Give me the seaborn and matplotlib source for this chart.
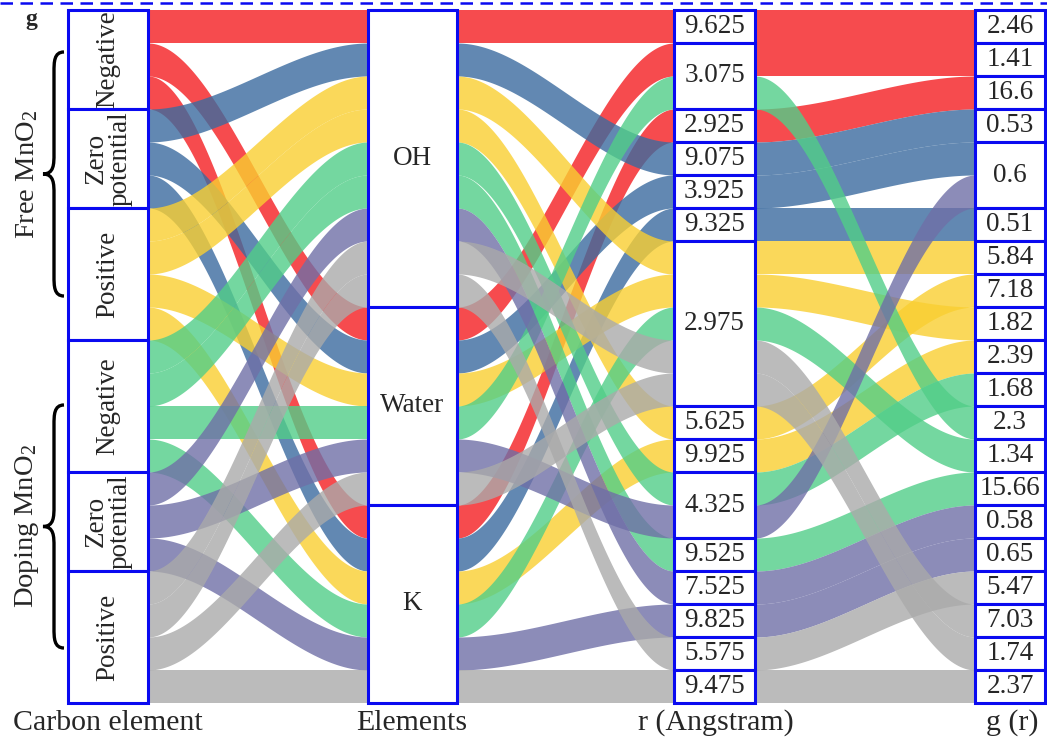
import numpy as np
import matplotlib
matplotlib.use("Agg")
import matplotlib.pyplot as plt
from matplotlib.patches import Rectangle, PathPatch
from matplotlib.path import Path
import seaborn as sns

# ---- data -----------------------------------------------------------------
carbon_levels = ["Free Negative", "Free Zero", "Free Positive",
                 "Doping Negative", "Doping Zero", "Doping Positive"]
carbon_labels = ["Negative", "Zero\npotential", "Positive",
                 "Negative", "Zero\npotential", "Positive"]
element_levels = ["OH", "Water", "K"]
r_levels = ["9.625", "3.075", "2.925", "9.075", "3.925", "9.325", "2.975",
            "5.625", "9.925", "4.325", "9.525", "7.525", "9.825", "5.575", "9.475"]
g_levels = ["2.46", "1.41", "16.6", "0.53", "0.6", "0.51", "5.84", "7.18",
            "1.82", "2.39", "1.68", "2.3", "1.34", "15.66", "0.58", "0.65",
            "5.47", "7.03", "1.74", "2.37"]

# one entry per trajectory (carbon site -> neighbour -> r -> g(r))
flow_carbon = ["Free Negative"] * 3 + ["Free Zero"] * 3 + ["Free Positive"] * 4 + \
              ["Doping Negative"] * 4 + ["Doping Zero"] * 3 + ["Doping Positive"] * 4
flow_element = ["OH", "Water", "K",
                "OH", "Water", "K",
                "OH", "OH", "Water", "K",
                "OH", "OH", "Water", "K",
                "OH", "Water", "K",
                "OH", "OH", "Water", "K"]
flow_r = ["9.625", "3.075", "2.925",
          "9.075", "3.925", "9.325",
          "2.975", "5.625", "2.975", "9.925",
          "4.325", "9.525", "3.075", "2.975",
          "7.525", "4.325", "9.825",
          "2.975", "5.575", "2.975", "9.475"]
flow_g = ["2.46", "1.41", "16.6",
          "0.53", "0.6", "0.51",
          "5.84", "7.18", "1.82", "2.39",
          "1.68", "15.66", "2.3", "1.34",
          "0.58", "0.6", "0.65",
          "7.03", "5.47", "1.74", "2.37"]
flow_weight = [1] * len(flow_carbon)

axis_titles = ["Carbon element", "Elements", "r (Angstram)", "g (r)"]

# ---- style ----------------------------------------------------------------
sns.set_theme(style="white")
plt.rcParams["font.family"] = ["Liberation Serif", "DejaVu Serif"]
plt.rcParams["mathtext.fontset"] = "custom"
plt.rcParams["mathtext.rm"] = "Liberation Serif"
plt.rcParams["mathtext.it"] = "Liberation Serif:italic"

palette = sns.color_palette(["#F41E22", "#3B6B9F", "#F9CF31",
                             "#51CE88", "#6F6FA7", "#AAAAAA"])
ALPHA = 0.8
BOX_BLUE = "#0A0AF0"

# ---- stacking ---------------------------------------------------------------
n = len(flow_carbon)
ci = [carbon_levels.index(v) for v in flow_carbon]
ei = [element_levels.index(v) for v in flow_element]
ri = [r_levels.index(v) for v in flow_r]
gi = [g_levels.index(v) for v in flow_g]


def stack(keys):
    order = sorted(range(n), key=lambda k: keys[k])
    start = [0.0] * n
    acc = 0.0
    for k in order:
        start[k] = acc
        acc += flow_weight[k]
    return start


g_pos = stack([(gi[k], ci[k]) for k in range(n)])
r_pos = stack([(ri[k], ci[k], g_pos[k]) for k in range(n)])
e_pos = stack([(ei[k], ci[k], r_pos[k]) for k in range(n)])
c_pos = stack([(ci[k], e_pos[k]) for k in range(n)])
total = float(sum(flow_weight))

# ---- figure geometry --------------------------------------------------------
W, H = 1047, 742
fig = plt.figure(figsize=(W / 100, H / 100), dpi=100)
ax = fig.add_axes([0, 0, 1, 1])
ax.set_xlim(0, W)
ax.set_ylim(H, 0)
ax.axis("off")

y_top, y_bot = 10.0, 703.0
unit = (y_bot - y_top) / total
columns = [(68, 148), (368, 457), (674, 755), (975, 1045)]


def ypix(v):
    return y_top + v * unit


# ---- ribbons ---------------------------------------------------------------
positions = [c_pos, e_pos, r_pos, g_pos]
t = np.linspace(0, 1, 160)
s = t * t * (3 - 2 * t)
for a in range(3):
    xa = columns[a][1]
    xb = columns[a + 1][0]
    xs = xa + (xb - xa) * t
    for k in range(n):
        y0 = ypix(positions[a][k])
        y1 = ypix(positions[a + 1][k])
        top = y0 + (y1 - y0) * s
        ax.fill_between(xs, top, top + flow_weight[k] * unit,
                        color=palette[ci[k]], alpha=ALPHA, lw=0, zorder=2)

# ---- node boxes --------------------------------------------------------------
node_sets = [
    (ci, carbon_levels, carbon_labels),
    (ei, element_levels, element_levels),
    (ri, r_levels, r_levels),
    (gi, g_levels, g_levels),
]
for a, (idx, levels, labels) in enumerate(node_sets):
    x0, x1 = columns[a]
    for j, lev in enumerate(levels):
        members = [k for k in range(n) if idx[k] == j]
        lo = min(positions[a][k] for k in members)
        hi = max(positions[a][k] + flow_weight[k] for k in members)
        ax.add_patch(Rectangle((x0, ypix(lo)), x1 - x0, ypix(hi) - ypix(lo),
                               facecolor="white", edgecolor=BOX_BLUE,
                               lw=2.2, zorder=4))
        cx, cy = (x0 + x1) / 2, (ypix(lo) + ypix(hi)) / 2
        if a == 0:
            ax.text(cx, cy, labels[j], rotation=90, ha="center", va="center",
                    fontsize=19.5, linespacing=0.95, zorder=5)
        else:
            ax.text(cx, cy, labels[j], ha="center", va="center",
                    fontsize=19.5, zorder=5)

# ---- axis titles -----------------------------------------------------------
title_x = [108, 412, 716, 1012]
for tx, title in zip(title_x, axis_titles):
    ax.text(tx, 723, title, ha="center", va="center", fontsize=21.5)

# ---- group braces and labels ---------------------------------------------------
def brace(y0, y1, xr=64, xm=54, xl=43, q=10):
    ym = (y0 + y1) / 2
    verts = [(xr, y0),
             (xm, y0), (xm, y0 + q), (xm, y0 + 2 * q),
             (xm, ym - 2 * q),
             (xm, ym - q), (xm, ym), (xl, ym),
             (xm, ym), (xm, ym + q), (xm, ym + 2 * q),
             (xm, y1 - 2 * q),
             (xm, y1 - q), (xm, y1), (xr, y1)]
    codes = [Path.MOVETO,
             Path.CURVE4, Path.CURVE4, Path.CURVE4,
             Path.LINETO,
             Path.CURVE4, Path.CURVE4, Path.CURVE4,
             Path.CURVE4, Path.CURVE4, Path.CURVE4,
             Path.LINETO,
             Path.CURVE4, Path.CURVE4, Path.CURVE4]
    ax.add_patch(PathPatch(Path(verts, codes), facecolor="none",
                           edgecolor="black", lw=2.4, zorder=5))
    return ym


ym = brace(52, 296)
ax.text(27, ym, r"Free MnO$_2$", rotation=90, ha="center", va="center",
        fontsize=20.5)
ym = brace(405, 648)
ax.text(27, ym, r"Doping MnO$_2$", rotation=90, ha="center", va="center",
        fontsize=20.5)

ax.text(31, 20, "g", ha="center", va="center", fontsize=17, fontweight="bold")

# dashed separator along the top edge
ax.plot([0, W], [2.5, 2.5], color=BOX_BLUE, lw=1.8, ls=(0, (5, 3)), zorder=6)

fig.savefig("out.png", dpi=100)
